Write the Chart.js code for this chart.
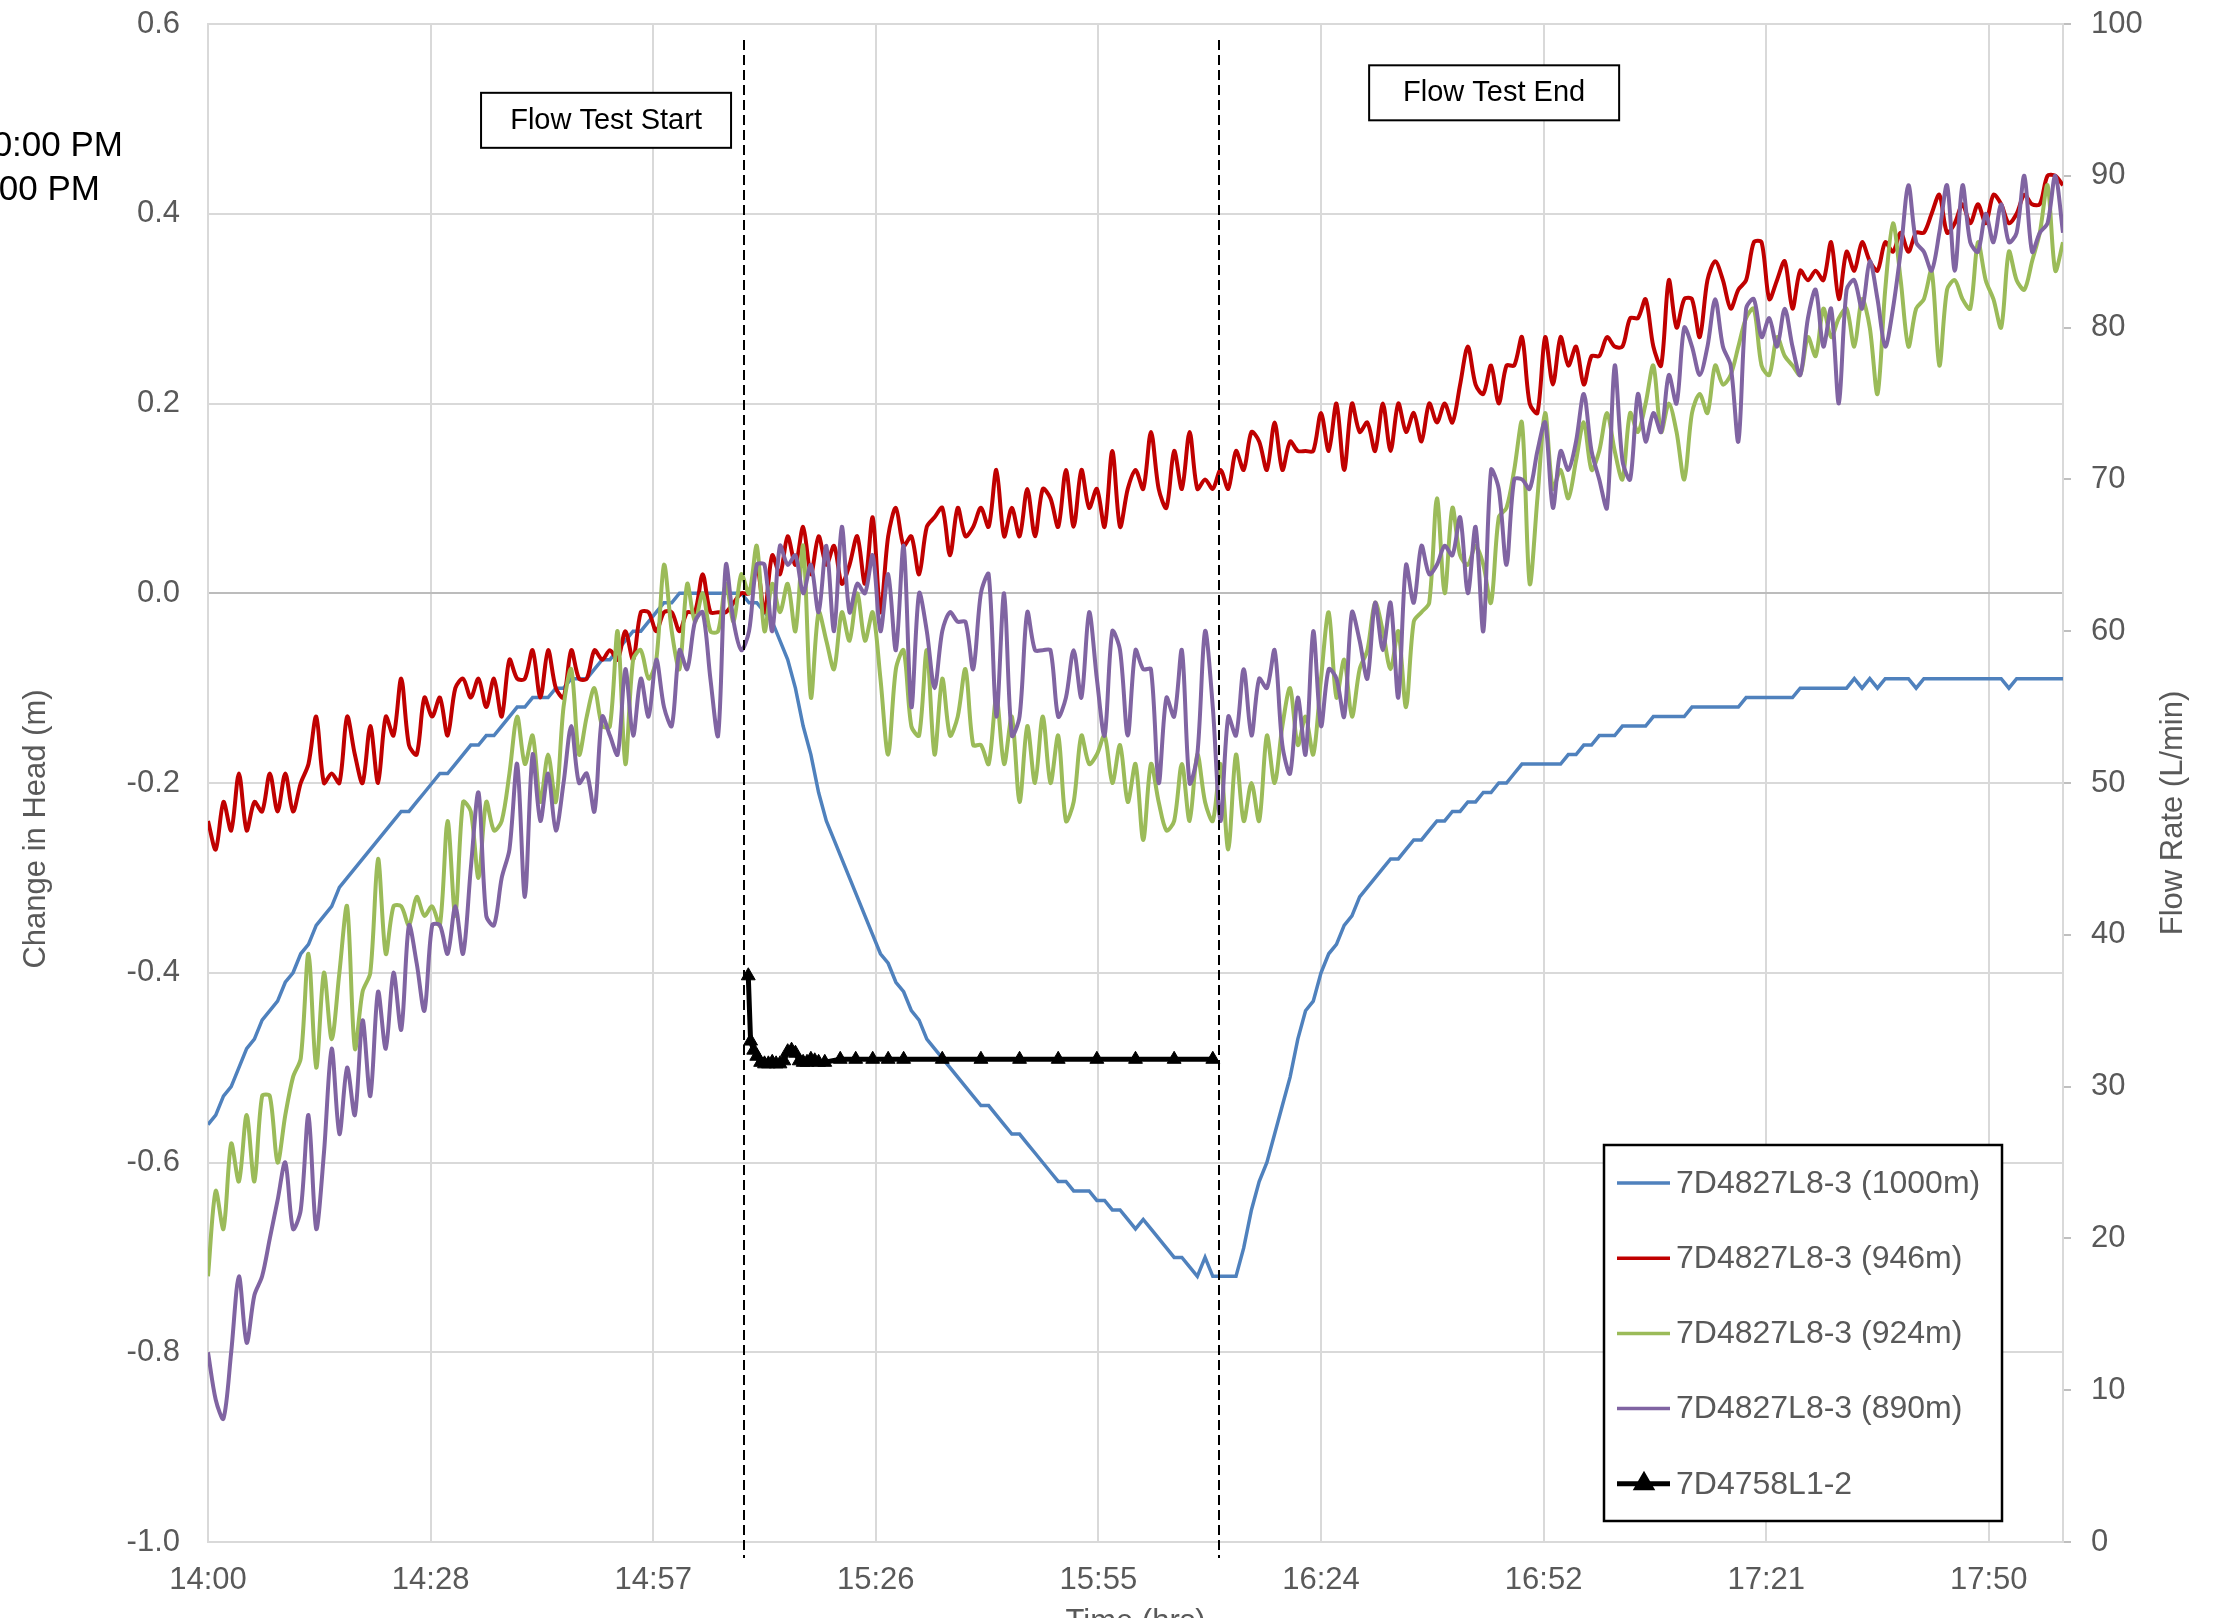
<!DOCTYPE html>
<html>
<head>
<meta charset="utf-8">
<title>Flow test - change in head</title>
<script src="https://cdn.jsdelivr.net/npm/chart.js@4.4.1/dist/chart.umd.min.js"></script>
<style>
  html, body { margin: 0; padding: 0; background: #fff; overflow: hidden; }
  #wrap { position: relative; width: 2214px; height: 1660px; }
</style>
</head>
<body>
<div id="wrap"><canvas id="headChart"></canvas></div>
<script>
// one reading per minute, starting 14:00 (index = minutes after 14:00)
const head1000m = [
  -0.56,-0.55,-0.53,-0.52,-0.50,-0.48,-0.47,-0.45,-0.44,-0.43,
  -0.41,-0.40,-0.38,-0.37,-0.35,-0.34,-0.33,-0.31,-0.30,-0.29,
  -0.28,-0.27,-0.26,-0.25,-0.24,-0.23,-0.23,-0.22,-0.21,-0.20,
  -0.19,-0.19,-0.18,-0.17,-0.16,-0.16,-0.15,-0.15,-0.14,-0.13,
  -0.12,-0.12,-0.11,-0.11,-0.11,-0.10,-0.10,-0.09,-0.09,-0.09,
  -0.08,-0.07,-0.07,-0.06,-0.05,-0.04,-0.04,-0.03,-0.02,-0.01,
  -0.01,0.00,0.00,0.00,0.00,0.00,0.00,0.00,0.00,0.00,
  -0.01,-0.01,-0.02,-0.03,-0.05,-0.07,-0.10,-0.14,-0.17,-0.21,
  -0.24,-0.26,-0.28,-0.30,-0.32,-0.34,-0.36,-0.38,-0.39,-0.41,
  -0.42,-0.44,-0.45,-0.47,-0.48,-0.49,-0.50,-0.51,-0.52,-0.53,
  -0.54,-0.54,-0.55,-0.56,-0.57,-0.57,-0.58,-0.59,-0.60,-0.61,
  -0.62,-0.62,-0.63,-0.63,-0.63,-0.64,-0.64,-0.65,-0.65,-0.66,
  -0.67,-0.66,-0.67,-0.68,-0.69,-0.70,-0.70,-0.71,-0.72,-0.70,
  -0.72,-0.72,-0.72,-0.72,-0.69,-0.65,-0.62,-0.60,-0.57,-0.54,
  -0.51,-0.47,-0.44,-0.43,-0.40,-0.38,-0.37,-0.35,-0.34,-0.32,
  -0.31,-0.30,-0.29,-0.28,-0.28,-0.27,-0.26,-0.26,-0.25,-0.24,
  -0.24,-0.23,-0.23,-0.22,-0.22,-0.21,-0.21,-0.20,-0.20,-0.19,
  -0.18,-0.18,-0.18,-0.18,-0.18,-0.18,-0.17,-0.17,-0.16,-0.16,
  -0.15,-0.15,-0.15,-0.14,-0.14,-0.14,-0.14,-0.13,-0.13,-0.13,
  -0.13,-0.13,-0.12,-0.12,-0.12,-0.12,-0.12,-0.12,-0.12,-0.11,
  -0.11,-0.11,-0.11,-0.11,-0.11,-0.11,-0.10,-0.10,-0.10,-0.10,
  -0.10,-0.10,-0.10,-0.09,-0.10,-0.09,-0.10,-0.09,-0.09,-0.09,
  -0.09,-0.10,-0.09,-0.09,-0.09,-0.09,-0.09,-0.09,-0.09,-0.09,
  -0.09,-0.09,-0.09,-0.10,-0.09,-0.09,-0.09,-0.09,-0.09,-0.09,
  -0.09
];
const head946m = [
  -0.24,-0.27,-0.22,-0.25,-0.19,-0.25,-0.22,-0.23,-0.19,-0.23,
  -0.19,-0.23,-0.20,-0.18,-0.13,-0.20,-0.19,-0.20,-0.13,-0.17,
  -0.20,-0.14,-0.20,-0.13,-0.15,-0.09,-0.16,-0.17,-0.11,-0.13,
  -0.11,-0.15,-0.10,-0.09,-0.11,-0.09,-0.12,-0.09,-0.13,-0.07,
  -0.09,-0.09,-0.06,-0.11,-0.06,-0.10,-0.11,-0.06,-0.09,-0.09,
  -0.06,-0.07,-0.06,-0.07,-0.04,-0.07,-0.02,-0.02,-0.04,-0.02,
  -0.02,-0.04,-0.02,-0.02,0.02,-0.02,-0.02,-0.02,-0.01,0.00,
  0.00,0.03,-0.02,0.04,0.02,0.06,0.03,0.07,0.02,0.06,
  0.03,0.05,0.01,0.03,0.06,0.01,0.08,-0.02,0.06,0.09,
  0.05,0.06,0.02,0.07,0.08,0.09,0.04,0.09,0.06,0.07,
  0.09,0.07,0.13,0.06,0.09,0.06,0.11,0.06,0.11,0.10,
  0.07,0.13,0.07,0.13,0.09,0.11,0.07,0.15,0.07,0.11,
  0.13,0.11,0.17,0.11,0.09,0.15,0.11,0.17,0.11,0.12,
  0.11,0.13,0.11,0.15,0.13,0.17,0.16,0.13,0.18,0.13,
  0.16,0.15,0.15,0.15,0.19,0.15,0.20,0.13,0.20,0.17,
  0.18,0.15,0.20,0.15,0.20,0.17,0.19,0.16,0.20,0.18,
  0.20,0.18,0.22,0.26,0.22,0.21,0.24,0.20,0.24,0.24,
  0.27,0.20,0.19,0.27,0.22,0.27,0.24,0.26,0.22,0.25,
  0.25,0.27,0.26,0.26,0.29,0.29,0.31,0.26,0.24,0.33,
  0.28,0.31,0.31,0.27,0.33,0.35,0.33,0.30,0.32,0.33,
  0.37,0.37,0.31,0.33,0.35,0.30,0.34,0.33,0.34,0.33,
  0.37,0.31,0.36,0.34,0.37,0.35,0.34,0.37,0.36,0.38,
  0.36,0.38,0.38,0.40,0.42,0.38,0.39,0.41,0.39,0.41,
  0.39,0.42,0.41,0.39,0.40,0.42,0.41,0.41,0.44,0.44,
  0.43
];
const head924m = [
  -0.72,-0.63,-0.67,-0.58,-0.62,-0.55,-0.62,-0.53,-0.53,-0.60,
  -0.55,-0.51,-0.49,-0.38,-0.50,-0.40,-0.47,-0.40,-0.33,-0.48,
  -0.42,-0.40,-0.28,-0.38,-0.33,-0.33,-0.35,-0.32,-0.34,-0.33,
  -0.35,-0.24,-0.34,-0.22,-0.23,-0.30,-0.22,-0.25,-0.24,-0.19,
  -0.13,-0.18,-0.15,-0.22,-0.17,-0.22,-0.12,-0.08,-0.17,-0.13,
  -0.10,-0.14,-0.14,-0.04,-0.18,-0.07,-0.06,-0.09,-0.07,0.03,
  -0.04,-0.08,0.01,-0.03,0.00,-0.04,-0.04,0.01,-0.03,0.02,
  0.00,0.05,-0.04,0.01,-0.02,0.01,-0.04,0.05,-0.11,-0.02,
  -0.05,-0.08,-0.02,-0.05,0.00,-0.05,-0.02,-0.09,-0.17,-0.08,
  -0.06,-0.14,-0.15,-0.06,-0.17,-0.09,-0.15,-0.13,-0.08,-0.16,
  -0.16,-0.18,-0.11,-0.18,-0.13,-0.22,-0.14,-0.20,-0.13,-0.20,
  -0.15,-0.24,-0.22,-0.15,-0.18,-0.17,-0.15,-0.20,-0.16,-0.22,
  -0.18,-0.26,-0.18,-0.22,-0.25,-0.24,-0.18,-0.24,-0.17,-0.22,
  -0.24,-0.18,-0.27,-0.17,-0.24,-0.20,-0.24,-0.15,-0.20,-0.14,
  -0.10,-0.16,-0.13,-0.17,-0.09,-0.02,-0.11,-0.07,-0.13,-0.08,
  -0.06,-0.01,-0.04,-0.08,-0.04,-0.12,-0.03,-0.02,-0.01,0.10,
  0.00,0.09,0.04,0.03,0.05,0.03,-0.01,0.08,0.09,0.13,
  0.18,0.01,0.10,0.19,0.11,0.13,0.10,0.14,0.18,0.13,
  0.15,0.19,0.15,0.12,0.19,0.17,0.20,0.24,0.17,0.20,
  0.17,0.12,0.19,0.21,0.19,0.24,0.22,0.23,0.26,0.29,
  0.30,0.24,0.23,0.27,0.25,0.24,0.23,0.27,0.25,0.30,
  0.27,0.29,0.30,0.26,0.31,0.28,0.21,0.32,0.39,0.33,
  0.26,0.30,0.31,0.34,0.24,0.32,0.33,0.31,0.30,0.37,
  0.33,0.31,0.28,0.36,0.33,0.32,0.35,0.38,0.43,0.34,
  0.37
];
const head890m = [
  -0.80,-0.85,-0.87,-0.80,-0.72,-0.79,-0.74,-0.72,-0.68,-0.64,
  -0.60,-0.67,-0.65,-0.55,-0.67,-0.59,-0.48,-0.57,-0.50,-0.55,
  -0.45,-0.53,-0.42,-0.48,-0.40,-0.46,-0.35,-0.39,-0.44,-0.35,
  -0.35,-0.38,-0.33,-0.38,-0.29,-0.21,-0.34,-0.35,-0.30,-0.27,
  -0.18,-0.32,-0.17,-0.24,-0.19,-0.25,-0.20,-0.14,-0.20,-0.19,
  -0.23,-0.13,-0.15,-0.17,-0.08,-0.15,-0.09,-0.13,-0.07,-0.12,
  -0.14,-0.06,-0.08,-0.03,-0.02,-0.09,-0.15,0.03,-0.03,-0.06,
  -0.04,0.03,0.03,-0.04,0.05,0.03,0.04,0.00,0.03,-0.02,
  0.05,-0.04,0.07,-0.02,0.01,0.00,0.04,-0.04,0.02,-0.06,
  0.05,-0.12,0.00,-0.04,-0.10,-0.04,-0.02,-0.03,-0.03,-0.08,
  0.00,0.02,-0.13,0.00,-0.15,-0.13,-0.02,-0.06,-0.06,-0.06,
  -0.13,-0.11,-0.06,-0.11,-0.02,-0.09,-0.15,-0.04,-0.06,-0.15,
  -0.06,-0.08,-0.08,-0.20,-0.11,-0.13,-0.06,-0.20,-0.17,-0.04,
  -0.12,-0.24,-0.13,-0.15,-0.08,-0.15,-0.09,-0.10,-0.06,-0.16,
  -0.19,-0.11,-0.17,-0.04,-0.14,-0.08,-0.09,-0.13,-0.02,-0.05,
  -0.09,-0.01,-0.06,-0.01,-0.11,0.03,-0.01,0.05,0.02,0.03,
  0.05,0.04,0.08,0.00,0.07,-0.04,0.13,0.11,0.03,0.12,
  0.12,0.11,0.15,0.18,0.09,0.15,0.13,0.16,0.21,0.15,
  0.12,0.09,0.24,0.14,0.12,0.21,0.16,0.19,0.17,0.23,
  0.20,0.28,0.26,0.23,0.26,0.31,0.26,0.24,0.16,0.30,
  0.31,0.27,0.29,0.26,0.30,0.26,0.23,0.29,0.32,0.26,
  0.30,0.20,0.32,0.33,0.30,0.35,0.31,0.26,0.30,0.36,
  0.43,0.37,0.36,0.34,0.38,0.43,0.34,0.43,0.37,0.36,
  0.40,0.37,0.41,0.37,0.38,0.44,0.36,0.38,0.39,0.44,
  0.38
];

// pumping well flow rate (L/min), read at irregular times (minutes after 14:00)
const flowMinutes = [69.9,70.2,70.6,71.0,71.5,72.0,72.5,73.0,73.5,74.0,74.5,75.0,75.5,76.0,76.5,77.0,77.5,78.0,78.5,79.0,79.8,
  81.8,83.8,86.0,88.0,90.0,95.0,100.0,105.0,110.0,115.0,120.0,125.0,130.0];
const flowRates = [37.3,33.0,32.4,32.0,31.6,31.5,31.5,31.6,31.5,31.5,31.7,32.3,32.4,32.2,31.7,31.6,31.6,31.8,31.7,31.6,31.6,
  31.8,31.8,31.8,31.8,31.8,31.8,31.8,31.8,31.8,31.8,31.8,31.8,31.8];

const timeTickMinutes = [0, 28.8, 57.6, 86.4, 115.2, 144, 172.8, 201.6, 230.4];
const timeTickLabels = ['14:00', '14:28', '14:57', '15:26', '15:55', '16:24', '16:52', '17:21', '17:50'];
const headTicks = [-1.0, -0.8, -0.6, -0.4, -0.2, 0.0, 0.2, 0.4, 0.6];
const flowTicks = [0, 10, 20, 30, 40, 50, 60, 70, 80, 90, 100];

const testStartMin = 69.4;
const testEndMin = 130.8;

const GRID = '#d9d9d9';
const TEXT = '#595959';
Chart.defaults.font.family = "'Liberation Sans', Arial, sans-serif";
Chart.defaults.color = TEXT;

const toPoints = values => values.map((y, i) => ({ x: i, y: y }));

// fixed axis width; drop the label half-height + padding that chart.js adds above the plot
const fixWidth = w => axis => {
  axis.width = w;
  axis.paddingTop = 0;
  axis.paddingBottom = 0;
};

// dashed start/end lines and their boxed captions
const testMarkers = {
  id: 'testMarkers',
  afterDatasetsDraw(chart) {
    const { ctx, chartArea, scales } = chart;
    const x = scales.x, y = scales.y;
    ctx.save();
    ctx.strokeStyle = '#000';
    ctx.lineWidth = 2;
    ctx.setLineDash([10, 5]);
    [testStartMin, testEndMin].forEach(t => {
      const px = Math.round(x.getPixelForValue(t));
      ctx.beginPath();
      ctx.moveTo(px, chartArea.top + 16);
      ctx.lineTo(px, chartArea.bottom + 16);
      ctx.stroke();
    });
    ctx.setLineDash([]);

    const notes = [
      { text: 'Flow Test Start', minute: 51.5, head: 0.499 },
      { text: 'Flow Test End', minute: 166.4, head: 0.528 }
    ];
    ctx.font = "29px 'Liberation Sans', Arial, sans-serif";
    ctx.textAlign = 'center';
    ctx.textBaseline = 'middle';
    notes.forEach(n => {
      const cx = x.getPixelForValue(n.minute);
      const cy = y.getPixelForValue(n.head);
      ctx.fillStyle = '#fff';
      ctx.fillRect(cx - 125, cy - 27, 250, 55);
      ctx.strokeStyle = '#000';
      ctx.lineWidth = 2;
      ctx.strokeRect(cx - 125, cy - 27, 250, 55);
      ctx.fillStyle = '#000';
      ctx.fillText(n.text, cx, cy + 1);
    });
    ctx.restore();
  }
};

// boxed legend in the lower right corner of the plot
const boxedLegend = {
  id: 'boxedLegend',
  afterDraw(chart) {
    const { ctx, chartArea } = chart;
    const left = chartArea.right - 459, top = chartArea.bottom - 397;
    ctx.save();
    ctx.fillStyle = '#fff';
    ctx.fillRect(left, top, 398, 376);
    ctx.strokeStyle = '#000';
    ctx.lineWidth = 2.5;
    ctx.strokeRect(left, top, 398, 376);
    ctx.font = "32px 'Liberation Sans', Arial, sans-serif";
    ctx.textAlign = 'left';
    ctx.textBaseline = 'middle';
    chart.data.datasets.forEach((ds, i) => {
      const rowY = top + 38 + i * 75.2;
      ctx.strokeStyle = ds.borderColor;
      ctx.lineWidth = ds.pointStyle ? 5 : 3.5;
      ctx.beginPath();
      ctx.moveTo(left + 13, rowY);
      ctx.lineTo(left + 66, rowY);
      ctx.stroke();
      if (ds.pointStyle) {
        ctx.fillStyle = ds.borderColor;
        Chart.helpers.drawPoint(ctx, { pointStyle: ds.pointStyle, radius: 8, rotation: 0, borderWidth: 1 }, left + 40, rowY);
      }
      ctx.fillStyle = TEXT;
      ctx.fillText(ds.label, left + 72, rowY + 1);
    });
    ctx.restore();
  }
};

// rotated axis titles and the clipped time note at the far left
const sideText = {
  id: 'sideText',
  afterDraw(chart) {
    const { ctx } = chart;
    ctx.save();
    ctx.fillStyle = '#000';
    ctx.font = "35px 'Liberation Sans', Arial, sans-serif";
    ctx.textAlign = 'right';
    ctx.textBaseline = 'middle';
    ctx.fillText('0:00 PM', 123, 146);
    ctx.fillText('00 PM', 100, 190);

    ctx.fillStyle = TEXT;
    ctx.font = "31px 'Liberation Sans', Arial, sans-serif";
    ctx.textAlign = 'center';
    [['Change in Head (m)', 36, 829], ['Flow Rate (L/min)', 2173, 813]].forEach(([t, px, py]) => {
      ctx.save();
      ctx.translate(px, py);
      ctx.rotate(-Math.PI / 2);
      ctx.fillText(t, 0, 0);
      ctx.restore();
    });
    ctx.restore();
  }
};

const noisy = { pointRadius: 0, borderWidth: 4, tension: 0.3, yAxisID: 'y' };

new Chart(document.getElementById('headChart'), {
  type: 'line',
  data: {
    datasets: [
      { label: '7D4827L8-3 (1000m)', data: toPoints(head1000m), borderColor: '#4f81bd', borderWidth: 3.5, pointRadius: 0, yAxisID: 'y', order: 4 },
      { ...noisy, label: '7D4827L8-3 (946m)', data: toPoints(head946m), borderColor: '#c00000', order: 3 },
      { ...noisy, label: '7D4827L8-3 (924m)', data: toPoints(head924m), borderColor: '#9bbb59', order: 2 },
      { ...noisy, label: '7D4827L8-3 (890m)', data: toPoints(head890m), borderColor: '#8064a2', order: 1 },
      {
        label: '7D4758L1-2',
        data: flowMinutes.map((m, i) => ({ x: m, y: flowRates[i] })),
        borderColor: '#000', backgroundColor: '#000', borderWidth: 5,
        pointStyle: 'triangle', pointRadius: 8, pointBorderWidth: 1,
        yAxisID: 'y1', order: 0
      }
    ]
  },
  options: {
    animation: false,
    responsive: true,
    maintainAspectRatio: false,
    devicePixelRatio: 1,
    layout: { padding: { left: 0, right: 0, top: 24, bottom: 19 } },
    plugins: { legend: { display: false }, tooltip: { enabled: false } },
    scales: {
      x: {
        type: 'linear', min: 0, max: 240,
        afterBuildTicks: axis => { axis.ticks = timeTickMinutes.map(value => ({ value })); },
        afterFit: axis => { axis.height = 99; },
        ticks: { callback: (v, i) => timeTickLabels[i], font: { size: 31 }, padding: 20, maxRotation: 0, autoSkip: false },
        grid: { color: GRID, lineWidth: 2, drawTicks: false },
        border: { color: GRID, width: 2 },
        title: { display: true, text: 'Time (hrs)', font: { size: 31 }, padding: 0 }
      },
      y: {
        position: 'left', min: -1, max: 0.6,
        afterBuildTicks: axis => { axis.ticks = headTicks.map(value => ({ value })); },
        afterFit: fixWidth(208),
        ticks: { callback: v => v.toFixed(1), font: { size: 31 }, padding: 28 },
        grid: {
          color: c => (c.tick && Math.abs(c.tick.value) < 1e-9 ? '#bcbcbc' : GRID),
          lineWidth: 2, drawTicks: false
        },
        border: { color: GRID, width: 2 }
      },
      y1: {
        position: 'right', min: 0, max: 100,
        afterBuildTicks: axis => { axis.ticks = flowTicks.map(value => ({ value })); },
        afterFit: fixWidth(151),
        ticks: { font: { size: 31 }, padding: 20 },
        grid: { drawOnChartArea: false, color: '#bfbfbf', lineWidth: 2, tickLength: 8 },
        border: { color: GRID, width: 2 }
      }
    }
  },
  plugins: [testMarkers, boxedLegend, sideText]
});
</script>
</body>
</html>
